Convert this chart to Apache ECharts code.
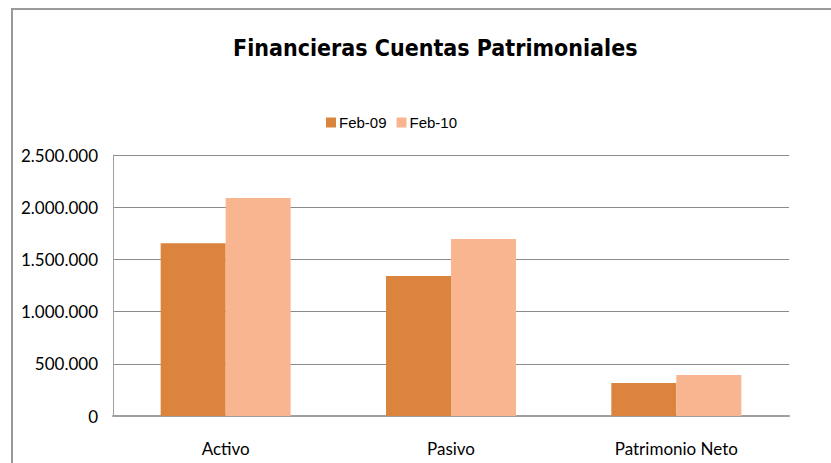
<!DOCTYPE html>
<html>
<head>
<meta charset="utf-8">
<script src="https://cdn.jsdelivr.net/npm/echarts@6/dist/echarts.min.js"></script>
<style>
  html, body { margin: 0; padding: 0; background: #fff; }
  #frame { position: absolute; left: 11px; top: 8px; width: 840px; height: 480px; border: 2px solid #9a9a9a; }
  #chart { position: absolute; left: 0; top: 0; width: 831px; height: 463px; }
</style>
</head>
<body>
<div id="frame"></div>
<div id="chart"></div>
<script>
// data
const categories = ['Activo', 'Pasivo', 'Patrimonio Neto'];
const feb09 = [1654000, 1341000, 316000];
const feb10 = [2088000, 1695000, 393000];
const seriesNames = ['Feb-09', 'Feb-10'];

const chart = echarts.init(document.getElementById('chart'), null, { renderer: 'svg' });

// thousands with dots, as in the original
const fmt = v => String(v).replace(/\B(?=(\d{3})+(?!\d))/g, '.');

chart.setOption({
    animation: false,
    title: {
        text: 'Financieras Cuentas Patrimoniales',
        left: 228,
        top: 31,
        textStyle: { fontFamily: 'DejaVu Sans Condensed', fontWeight: 'bold', fontSize: 23, color: '#000' }
    },
    legend: {
        top: 110,
        left: 321,
        itemWidth: 10,
        itemHeight: 10,
        itemGap: 10,
        icon: 'rect',
        textStyle: { fontFamily: 'Liberation Sans', fontSize: 15, color: '#000', padding: [0, 0, 0, -2] },
        data: seriesNames
    },
    grid: { left: 113, right: 42, top: 155, bottom: 47, containLabel: false },
    xAxis: {
        type: 'category',
        data: categories,
        axisLine: { lineStyle: { color: '#a0a0a0', width: 2 } },
        axisTick: { show: false },
        axisLabel: { fontFamily: 'Lato', fontSize: 17, color: '#000', margin: 24 }
    },
    yAxis: {
        type: 'value',
        min: 0,
        max: 2500000,
        interval: 500000,
        axisLine: { show: true, lineStyle: { color: '#a0a0a0', width: 1 } },
        axisTick: { show: false },
        splitLine: { lineStyle: { color: '#8c8c8c', width: 1 } },
        axisLabel: { fontFamily: 'Lato', fontSize: 17, color: '#000', margin: 15, formatter: fmt }
    },
    series: [
        { name: seriesNames[0], type: 'bar', data: feb09, barWidth: 65, barGap: '0%', itemStyle: { color: '#DB843D' } },
        { name: seriesNames[1], type: 'bar', data: feb10, barWidth: 65, itemStyle: { color: '#F8B590' } }
    ]
});
</script>
</body>
</html>
